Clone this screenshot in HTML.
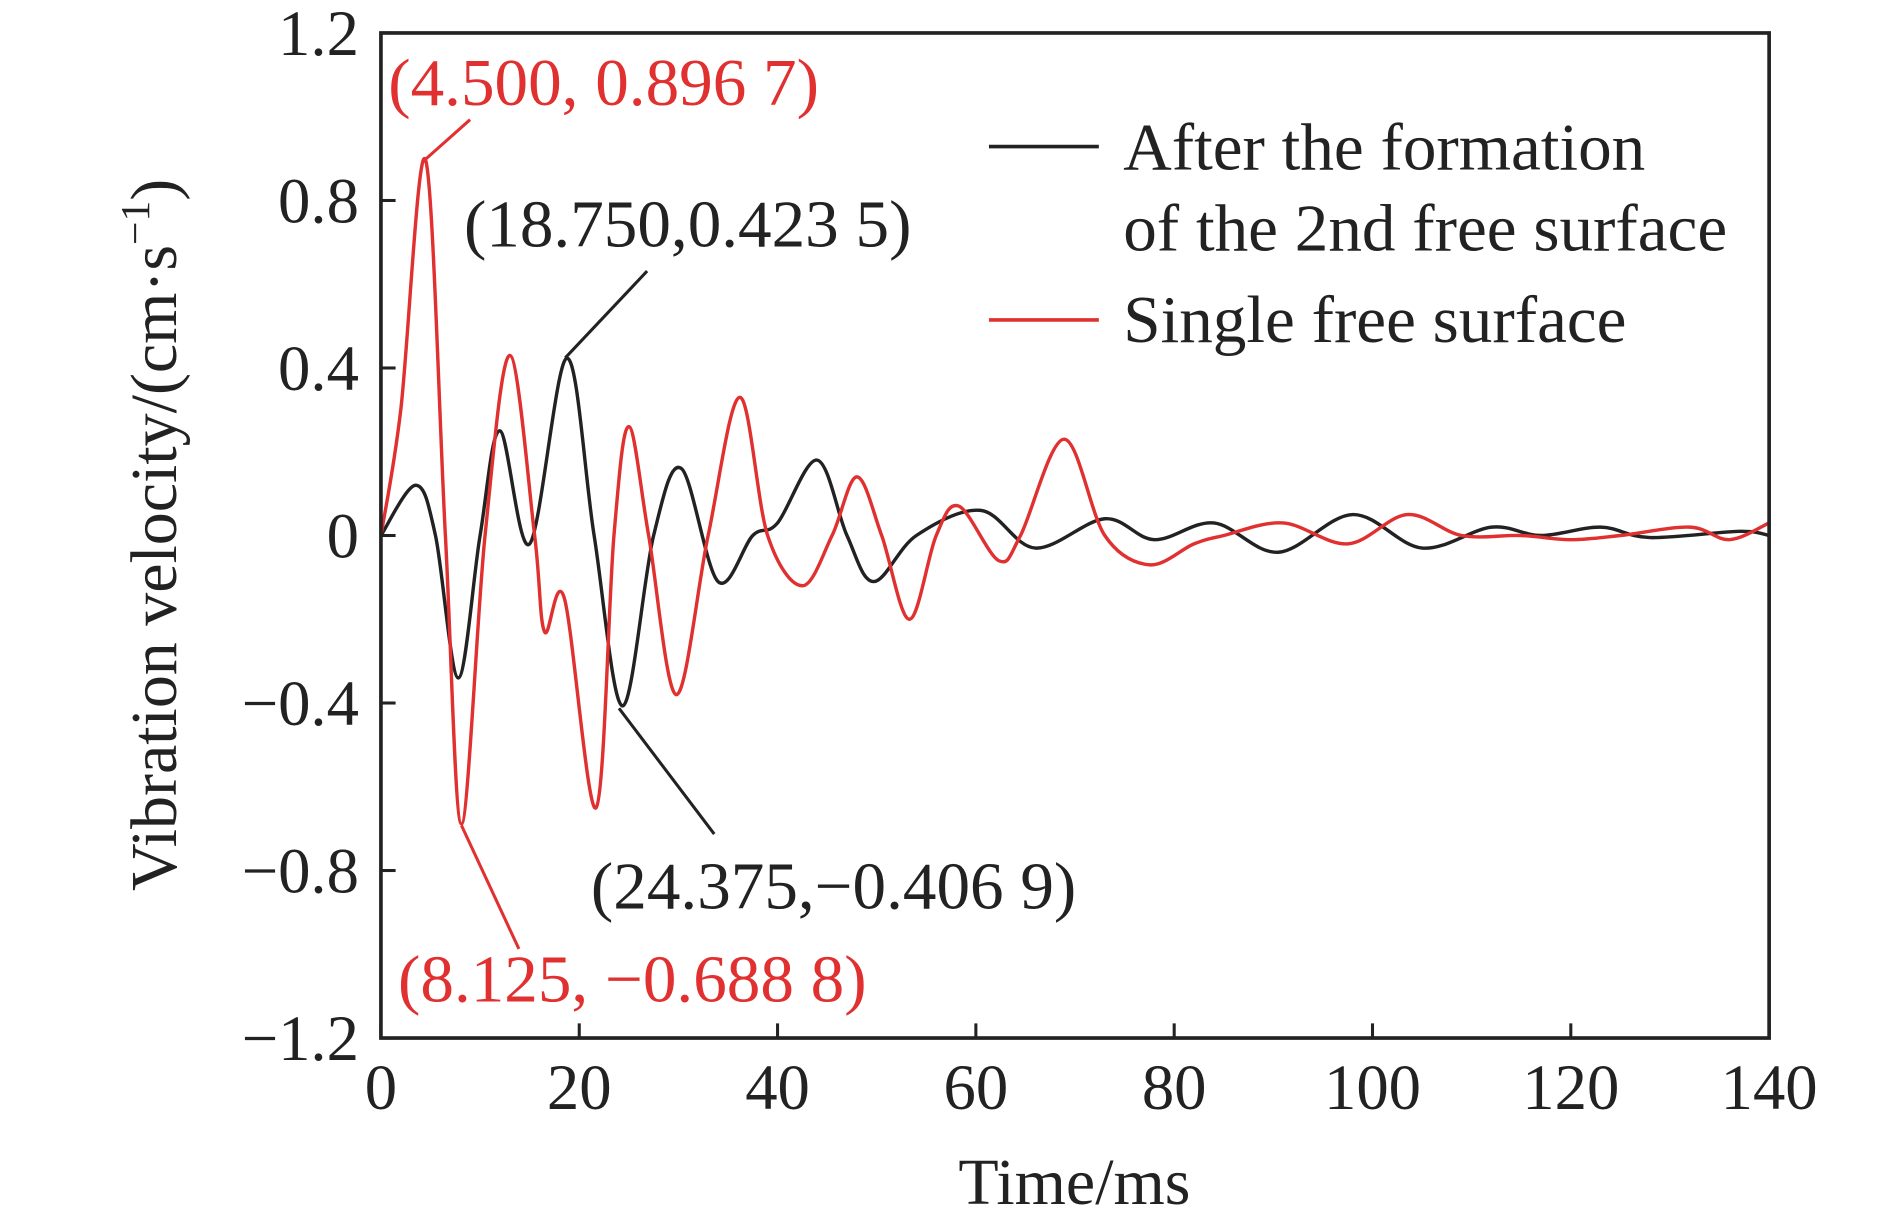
<!DOCTYPE html>
<html><head><meta charset="utf-8"><style>
html,body{margin:0;padding:0;background:#fff;}
svg{display:block;}
text{font-family:"Liberation Serif",serif;}
</style></head><body>
<svg id="chart" width="1890" height="1209" viewBox="0 0 1548 990" preserveAspectRatio="none" xmlns="http://www.w3.org/2000/svg">
<rect x="0" y="0" width="1548" height="990" fill="#fff"/>
<g id="series"></g>
<rect x="312" y="27" width="1137" height="823" fill="none" stroke="#222" stroke-width="3"/>
<g id="ticks"></g>
<text transform="translate(144,438) rotate(-90)" text-anchor="middle" font-size="54" fill="#222">Vibration velocity/(cm·s<tspan font-size="34" dy="-22">−1</tspan><tspan dy="22">)</tspan></text>
<text x="880" y="986" text-anchor="middle" font-size="54" fill="#222">Time/ms</text>
<g>
<line x1="810" y1="120" x2="900" y2="120" stroke="#222" stroke-width="3"/>
<text x="920" y="139" font-size="55" fill="#222">After the formation</text>
<text x="920" y="205" font-size="55" fill="#222">of the 2nd free surface</text>
<line x1="810" y1="262" x2="900" y2="262" stroke="#e03030" stroke-width="3"/>
<text x="920" y="280" font-size="55" fill="#222">Single free surface</text>
</g>
<g>
<line x1="349" y1="130" x2="385" y2="98" stroke="#e03030" stroke-width="2.5"/>
<text x="318" y="86" font-size="55" fill="#e03030">(4.500, 0.896 7)</text>
<line x1="378" y1="676" x2="425" y2="777" stroke="#e03030" stroke-width="2.5"/>
<text x="326" y="820" font-size="55" fill="#e03030">(8.125, −0.688 8)</text>
<line x1="463" y1="293" x2="530" y2="222" stroke="#222" stroke-width="2.5"/>
<text x="380" y="202" font-size="55" fill="#222">(18.750,0.423 5)</text>
<line x1="507" y1="580" x2="585" y2="683" stroke="#222" stroke-width="2.5"/>
<text x="484" y="744" font-size="55" fill="#222">(24.375,−0.406 9)</text>
</g>
</svg>
<script>
const xTicks=[0,20,40,60,80,100,120,140];
const yTicks=[-1.2,-0.8,-0.4,0,0.4,0.8,1.2];
const yTickLabels=["−1.2","−0.8","−0.4","0","0.4","0.8","1.2"];
const blackT=[0,3.5,5.5,7.8,10,12,15,18.75,21.5,24.375,27.5,30.3,34,37.5,40,44,47,49.7,54,60.5,66,73,78,84,90.5,98,105,112,117,123,128,137,140];
const blackV=[0,0.12,0,-0.34,0,0.25,-0.02,0.4235,0,-0.4069,0,0.16,-0.11,0,0.03,0.18,0,-0.11,0,0.06,-0.03,0.04,-0.01,0.03,-0.04,0.05,-0.03,0.02,0,0.02,-0.005,0.01,0];
const redT=[0,2,4.5,6.5,8.125,10.5,13,15.5,16.5,18.5,21.7,23.5,25,27,29.8,33,36.2,39,42.5,45.5,48,50.5,53.3,56,58.3,62.3,64.5,68.9,73,77.5,82,85,91,97.5,103.5,109,115,120,125,132,136,140];
const redV=[0,0.3,0.8967,0,-0.6888,0,0.43,0,-0.23,-0.15,-0.65,0,0.26,0,-0.38,0,0.33,0,-0.12,0,0.14,0,-0.2,0,0.07,-0.06,0,0.23,0,-0.07,-0.02,0,0.03,-0.02,0.05,0,0,-0.01,0,0.02,-0.01,0.03];
const NS="http://www.w3.org/2000/svg";
const X=t=>312+t*(1137/140);
const Y=v=>438.5-v*(823/2.4);
function pathFor(ts,vs){
  const p=ts.map((t,i)=>[X(t),Y(vs[i])]);
  let d="M"+p[0][0]+","+p[0][1];
  for(let i=0;i<p.length-1;i++){
    const p0=p[Math.max(i-1,0)],p1=p[i],p2=p[i+1],p3=p[Math.min(i+2,p.length-1)];
    const c1=[p1[0]+(p2[0]-p0[0])/6,p1[1]+(p2[1]-p0[1])/6];
    const c2=[p2[0]-(p3[0]-p1[0])/6,p2[1]-(p3[1]-p1[1])/6];
    d+=" C"+c1[0]+","+c1[1]+" "+c2[0]+","+c2[1]+" "+p2[0]+","+p2[1];
  }
  return d;
}
const sg=document.getElementById("series");
const pb=document.createElementNS(NS,"path");
pb.setAttribute("d",pathFor(blackT,blackV));
pb.setAttribute("fill","none");pb.setAttribute("stroke","#222");pb.setAttribute("stroke-width","2.8");


sg.appendChild(pb);
const pr=document.createElementNS(NS,"path");
pr.setAttribute("d",pathFor(redT,redV));
pr.setAttribute("fill","none");pr.setAttribute("stroke","#e03030");pr.setAttribute("stroke-width","2.8");


sg.appendChild(pr);
const tg=document.getElementById("ticks");
xTicks.forEach(t=>{
  const l=document.createElementNS(NS,"line");
  l.setAttribute("x1",X(t));l.setAttribute("x2",X(t));l.setAttribute("y1",850);l.setAttribute("y2",838);
  l.setAttribute("stroke","#222");l.setAttribute("stroke-width","2.5");
  
  
  tg.appendChild(l);
  const tx=document.createElementNS(NS,"text");
  tx.setAttribute("x",X(t));tx.setAttribute("y",908);tx.setAttribute("text-anchor","middle");
  tx.setAttribute("font-size","53");tx.setAttribute("fill","#222");tx.textContent=t;
  
  
  tg.appendChild(tx);
});
yTicks.forEach((v,i)=>{
  const l=document.createElementNS(NS,"line");
  l.setAttribute("x1",312);l.setAttribute("x2",324);l.setAttribute("y1",Y(v));l.setAttribute("y2",Y(v));
  l.setAttribute("stroke","#222");l.setAttribute("stroke-width","2.5");
  
  
  tg.appendChild(l);
  const tx=document.createElementNS(NS,"text");
  tx.setAttribute("x",294);tx.setAttribute("y",Y(v)+18);tx.setAttribute("text-anchor","end");
  tx.setAttribute("font-size","53");tx.setAttribute("fill","#222");tx.textContent=yTickLabels[i];
  
  
  tg.appendChild(tx);
});
</script>
</body></html>
